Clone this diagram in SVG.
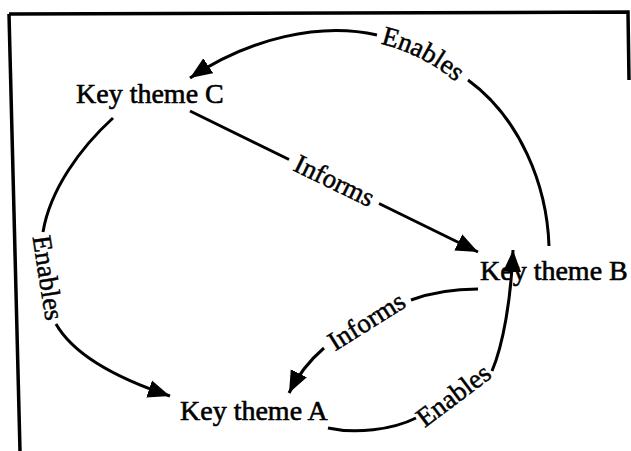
<svg xmlns="http://www.w3.org/2000/svg" width="631" height="451" viewBox="0 0 631 451">
  <style>
    .node { font-family: "Liberation Serif", "DejaVu Serif", serif; font-size: 28px; fill: #000; stroke: #000; stroke-width: 0.6; }
    .lbl { font-family: "Liberation Serif", "DejaVu Serif", serif; font-size: 27px; fill: #000; stroke: #000; stroke-width: 0.5; text-anchor: middle; }
    .edge { fill: none; stroke: #000; stroke-width: 3; }
    .frame { fill: none; stroke: #000; stroke-width: 3.5; }
  </style>
  <defs>
    <marker id="arrow" markerUnits="userSpaceOnUse" markerWidth="24" markerHeight="20" refX="22" refY="10" orient="auto">
      <path d="M0,1 L22,10 L0,19 z" fill="#000"/>
    </marker>
    <path id="topLabelPath" d="M372,42 Q424,52 462,88"/>
  </defs>

  <rect width="631" height="451" fill="#fff"/>

  <!-- frame -->
  <g id="frame">
    <path class="frame" d="M9,14 L628,12 L629,80"/>
    <path class="frame" d="M9,14 L20,451"/>
  </g>

  <!-- connectors -->
  <g id="connectors">
    <!-- B enables C -->
    <path class="edge" d="M549,246 C547,185 520,118 468,80"/>
    <path class="edge" d="M377,35 C320,22 250,38 190,78" marker-end="url(#arrow)"/>
    <text class="lbl"><textPath href="#topLabelPath" startOffset="50%">Enables</textPath></text>

    <!-- C informs B -->
    <path class="edge" d="M190,111 L289,159.5"/>
    <path class="edge" d="M379,203.5 L478,252" marker-end="url(#arrow)"/>
    <text class="lbl" transform="translate(334,181.5) rotate(26)" y="8">Informs</text>

    <!-- C enables A -->
    <path class="edge" d="M113,118 C80,148 50,190 43,232"/>
    <path class="edge" d="M56,324 C72,352 110,376 170,396" marker-end="url(#arrow)"/>
    <text class="lbl" transform="translate(47,278) rotate(81)" y="8">Enables</text>

    <!-- B informs A -->
    <path class="edge" d="M478,289 C455,289 430,293 411,300"/>
    <path class="edge" d="M324,348 C310,360 298,375 289,393" marker-end="url(#arrow)"/>
    <text class="lbl" transform="translate(367,322) rotate(-32)" y="8">Informs</text>

    <!-- A enables B -->
    <path class="edge" d="M328,428 C355,434 392,430 416,418"/>
    <path class="edge" d="M492,371 C503,345 511,300 513,250" marker-end="url(#arrow)"/>
    <text class="lbl" transform="translate(454,396) rotate(-37)" y="8">Enables</text>
  </g>

  <!-- nodes -->
  <g id="node-c"><text class="node" x="76" y="103">Key theme C</text></g>
  <g id="node-b"><text class="node" x="480" y="280">Key theme B</text></g>
  <g id="node-a"><text class="node" x="180" y="420">Key theme A</text></g>
</svg>
